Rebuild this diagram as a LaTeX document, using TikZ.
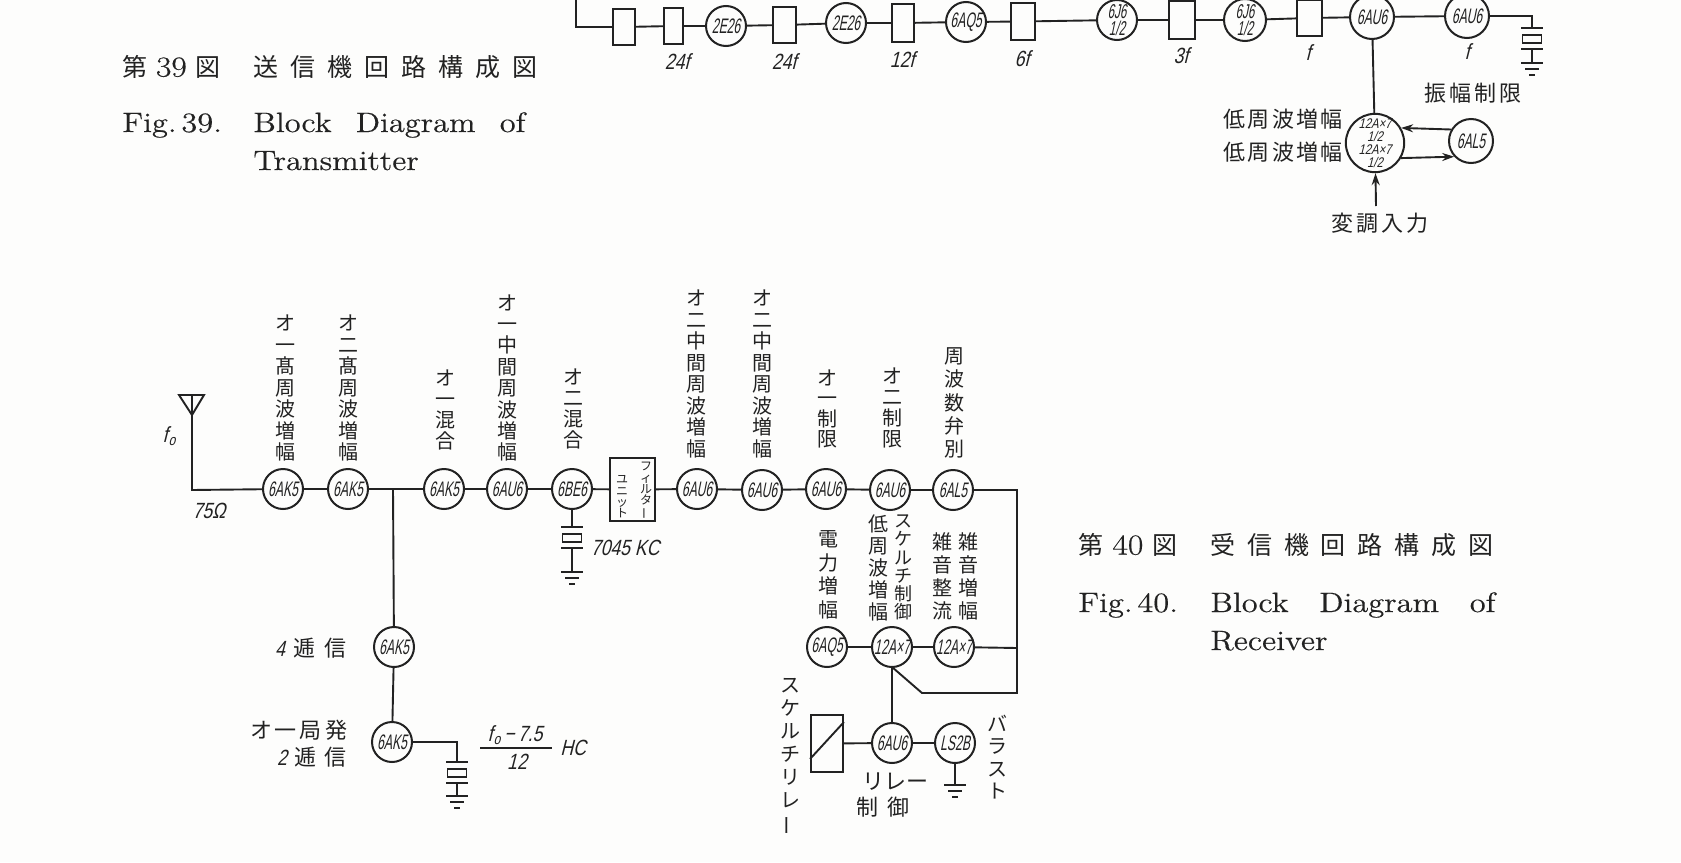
\documentclass[tikz,border=0pt]{standalone}
\usepackage{fontspec}
\usetikzlibrary{arrows.meta,calc}
\newfontfamily\cjk{Noto Sans CJK JP}
\newfontfamily\tubef[FakeSlant=0.2,FakeStretch=0.58]{Liberation Sans}
\newfontfamily\ital[FakeSlant=0.25,FakeStretch=0.8]{Liberation Sans}
\newfontfamily\capf[FakeStretch=1.16,FakeBold=0.4]{Latin Modern Roman}
\definecolor{ink}{HTML}{222222}
\definecolor{paper}{HTML}{FDFDFC}
\makeatletter
% vertical stack of characters: pitch in reference pixels, then the characters
\newcommand\vstk[2]{\vbox{\baselineskip=\dimexpr #1pt/2\relax\lineskip=0pt\lineskiplimit=-100pt
  \@tfor\@ch:=#2\do{\hbox to 1.1em{\hss\@ch\hss}}}}
% characters spread over a width in reference pixels
\newcommand\spr[2]{\hbox to \dimexpr #1pt/2\relax{\@tfor\@ch:=#2\do{\@ch\hskip 0pt plus 1fil}\unskip}}
\makeatother
\newcommand\vb{\rotatebox[origin=c]{90}{ー}}
\newcommand\nfour{{\ital 4}}
\newcommand\ntwo{{\ital 2}}
\newcommand\nxxxix{{\capf\fontsize{14.5}{14}\selectfont 39}}
\newcommand\nxl{{\capf\fontsize{14.5}{14}\selectfont 40}}
\newcommand\fsub{f\kern0.6pt\raisebox{-1.5pt}{\fontsize{7.5}{7.5}\selectfont o}}
\newcommand\xtal[3]{%
  \draw[wire] ({#1-11},{#2}) -- ({#1+11},{#2});
  \draw[wire] ({#1-9.5},{#2+7}) rectangle ({#1+9.5},{#2+15});
  \draw[wire] ({#1-11},{#2+21}) -- ({#1+11},{#2+21});
  \draw[wire] ({#1},{#2+21}) -- ({#1},{#2+#3});
  \gndsym{#1}{#2+#3}}
\newcommand\gndsym[2]{%
  \draw[wire] ({#1-11},{#2}) -- ({#1+11},{#2});
  \draw[wire] ({#1-7},{#2+6}) -- ({#1+7},{#2+6});
  \draw[wire] ({#1-3},{#2+12}) -- ({#1+3},{#2+12});}
\tikzset{
  wire/.style={draw=ink,line width=0.95pt},
  tube/.style={circle,draw=ink,line width=1pt,minimum size=20pt,inner sep=0pt,fill=paper,text=ink,
    font=\tubef\fontsize{10.5}{10}\selectfont},
  bigtube/.style={tube,minimum size=26pt,font=\ital\fontsize{7}{6.4}\selectfont,align=center},
  twotube/.style={tube,font=\tubef\fontsize{10}{8.5}\selectfont,align=center},
  blk/.style={rectangle,draw=ink,line width=0.95pt,inner sep=0pt,fill=paper},
  vlab/.style={inner sep=0pt,text=ink,font=\cjk\fontsize{10}{10}\selectfont},
  vsmall/.style={inner sep=0pt,text=ink,font=\cjk\fontsize{9}{9}\selectfont},
  vtiny/.style={inner sep=0pt,text=ink,font=\cjk\fontsize{6}{6}\selectfont},
  hlab/.style={inner sep=0pt,text=ink,font=\cjk\fontsize{11}{11}\selectfont},
  val/.style={inner sep=0pt,text=ink,font=\ital\fontsize{11}{11}\selectfont},
  capj/.style={inner sep=0pt,anchor=west,text=ink,font=\cjk\fontsize{12.5}{12.5}\selectfont},
  cape/.style={inner sep=0pt,anchor=base west,text=ink,font=\capf\fontsize{14}{14}\selectfont},
  tip/.style={-{Stealth[length=6pt,width=4pt]}},
}
\begin{document}
\begin{tikzpicture}[x=0.5pt,y=-0.5pt]
\useasboundingbox (0,0) rectangle (1681,862);
\fill[paper] (0,0) rectangle (1681,862);

% ---- captions
\node[capj] (cap39a) at (122,67) {\spr{98}{第\nxxxix 図}};
\node[capj] (cap39b) at (253,67) {\spr{284}{送信機回路構成図}};
\node[cape] (cap39c) at (122,132) {Fig.\,39.};
\node[cape] (cap39d) at (253,132) {\hbox to 136pt{Block\hfill Diagram\hfill of}};
\node[cape] (cap39e) at (253,170) {Transmitter};
\node[capj] (cap40a) at (1078,545) {\spr{99}{第\nxl 図}};
\node[capj] (cap40b) at (1210,545) {\spr{283}{受信機回路構成図}};
\node[cape] (cap40c) at (1078,612) {Fig.\,40.};
\node[cape] (cap40d) at (1210,612) {\hbox to 142.5pt{Block\hfill Diagram\hfill of}};
\node[cape] (cap40e) at (1210,650) {Receiver};

% ---- transmitter chain
\coordinate (tstart) at (576,0);
\node[blk,minimum width=11pt,minimum height=18pt] (tb1) at (624,27) {};
\node[blk,minimum width=9.5pt,minimum height=18pt] (tb2) at (673.5,26) {};
\node[tube] (tt1) at (726,26) {2E26};
\node[blk,minimum width=11.5pt,minimum height=18pt] (tb3) at (784.5,25) {};
\node[tube] (tt2) at (846,23) {2E26};
\node[blk,minimum width=11pt,minimum height=19pt] (tb4) at (903,23) {};
\node[tube] (tt3) at (966,22) {6AQ5};
\node[blk,minimum width=12pt,minimum height=18.5pt] (tb5) at (1023,21.5) {};
\node[twotube] (tt4) at (1117,20) {6J6\\1/2};
\node[blk,minimum width=13pt,minimum height=19pt] (tb6) at (1182,20) {};
\node[twotube,minimum size=21pt] (tt5) at (1245,20) {6J6\\1/2};
\node[blk,minimum width=12.5pt,minimum height=18pt] (tb7) at (1309.5,18) {};
\node[tube,minimum size=22pt,font=\tubef\fontsize{10.5}{9}\selectfont] (tt6) at (1372,17) {6AU6};
\node[tube,minimum size=22pt,font=\tubef\fontsize{10.5}{9}\selectfont] (tt7) at (1467,16) {6AU6};
\coordinate (txt) at (1532,28);
\node[bigtube] (amp) at (1375,143) {12A×7\\1/2\\12A×7\\1/2};
\node[tube,minimum size=22pt] (lim) at (1471,141) {6AL5};
\coordinate (modin) at (1376,206);

\draw[wire] (tstart) |- (tb1);
\draw[wire] (tb1) -- (tb2);
\draw[wire] (tb2) -- (tt1);
\draw[wire] (tt1) -- (tb3);
\draw[wire] (tb3) -- (tt2);
\draw[wire] (tt2) -- (tb4);
\draw[wire] (tb4) -- (tt3);
\draw[wire] (tt3) -- (tb5);
\draw[wire] (tb5) -- (tt4);
\draw[wire] (tt4) -- (tb6);
\draw[wire] (tb6) -- (tt5);
\draw[wire] (tt5) -- (tb7);
\draw[wire] (tb7) -- (tt6);
\draw[wire] (tt6) -- (tt7);
\draw[wire] (tt7) -| (txt);
\draw[wire] (tt6) -- (amp);
\draw[wire,tip] (lim.150) -- (amp.30);
\draw[wire,tip] (amp.-30) -- (lim.223);
\draw[wire,tip] (modin) -- (amp);
\xtal{1532}{28}{35}

\node[val] (f24a) at (677,62) {24f};
\node[val] (f24b) at (784,62) {24f};
\node[val] (f12) at (902,60) {12f};
\node[val] (f6) at (1022,59) {6f};
\node[val] (f3) at (1181,56) {3f};
\node[val] (f1a) at (1308,53) {f};
\node[val] (f1b) at (1467,52) {f};
\node[hlab] (tl1) at (1473,93) {\spr{97}{振幅制限}};
\node[hlab] (tl2) at (1283,119) {\spr{119}{低周波増幅}};
\node[hlab] (tl3) at (1283,152) {\spr{119}{低周波増幅}};
\node[hlab] (tl4) at (1380,223) {\spr{97}{変調入力}};

% ---- receiver: main line
\coordinate (antbase) at (192,490);
\coordinate (anttip) at (192,415);
\coordinate (antl) at (179,395);
\coordinate (antr) at (204,395);
\node[tube] (r1) at (283,489) {6AK5};
\node[tube] (r2) at (348,489) {6AK5};
\coordinate (tap) at (393,489);
\node[tube] (r3) at (444,489) {6AK5};
\node[tube] (r4) at (507,489) {6AU6};
\node[tube] (r5) at (572,489) {6BE6};
\node[blk,minimum width=22.5pt,minimum height=31.5pt] (filt) at (632.5,489.5) {};
\node[tube] (r6) at (697,489) {6AU6};
\node[tube] (r7) at (762,490) {6AU6};
\node[tube] (r8) at (826,489) {6AU6};
\node[tube] (r9) at (890,490) {6AU6};
\node[tube] (r10) at (953,490) {6AL5};
\coordinate (rcorner) at (1017,490);
\coordinate (rlow) at (1017,693);
\coordinate (rbend) at (922,693);
\coordinate (rtee) at (1017,648);
\node[tube] (a1) at (827,647) {6AQ5};
\node[tube] (a2) at (892,647) {12A×7};
\node[tube] (a3) at (954,647) {12A×7};
\coordinate (a2foot) at (892,667);
\node[tube] (rel) at (892,743) {6AU6};
\node[tube] (bal) at (955,743) {LS2B};
\node[blk,minimum width=16pt,minimum height=28.5pt] (relay) at (827,743.5) {};
\coordinate (balg) at (955,785);
\node[tube] (o1) at (394,647) {6AK5};
\node[tube] (o2) at (392,742) {6AK5};
\coordinate (oxt) at (457,762);
\coordinate (r5x) at (572,527);

\draw[wire] (antl) -- (antr) -- (anttip) -- cycle;
\draw[wire] (antl) ++(13,0) -- (anttip);
\draw[wire] (anttip) -- (antbase) -- (r1);
\draw[wire] (r1) -- (r2);
\draw[wire] (r2) -- (tap) -- (r3);
\draw[wire] (r3) -- (r4);
\draw[wire] (r4) -- (r5);
\draw[wire] (r5) -- (filt);
\draw[wire] (filt) -- (r6);
\draw[wire] (r6) -- (r7);
\draw[wire] (r7) -- (r8);
\draw[wire] (r8) -- (r9);
\draw[wire] (r9) -- (r10);
\draw[wire] (r10) -- (rcorner) -- (rlow) -- (rbend) -- (a2foot);
\draw[wire] (a3) -- (rtee);
\draw[wire] (a3) -- (a2);
\draw[wire] (a2) -- (a1);
\draw[wire] (a2) -- (rel);
\draw[wire] (rel) -- (bal);
\draw[wire] (rel) -- (relay);
\draw[wire] (relay.south west) ++(0,-14) -- ($(relay.north east)+(0,8)$);
\draw[wire] (bal) -- (balg);
\gndsym{955}{785}
\draw[wire] (tap) -- (o1);
\draw[wire] (o1) -- (o2);
\draw[wire] (o2) -| (oxt);
\xtal{457}{762}{34}
\draw[wire] (r5) -- (r5x);
\xtal{572}{527}{45}

% ---- receiver: labels above
\node[vlab] (v1) at (285,388) {\vstk{21.5}{オ一髙周波増幅}};
\node[vlab] (v2) at (348,388) {\vstk{21.5}{オ二髙周波増幅}};
\node[vlab] (v3) at (445,410) {\vstk{21}{オ一混合}};
\node[vlab] (v4) at (507,378) {\vstk{21.4}{オ一中間周波増幅}};
\node[vlab] (v5) at (573,409) {\vstk{21}{オ二混合}};
\node[vlab] (v6) at (696,374) {\vstk{21.5}{オ二中間周波増幅}};
\node[vlab] (v7) at (762,374) {\vstk{21.5}{オ二中間周波増幅}};
\node[vlab] (v8) at (827,409) {\vstk{20.5}{オ一制限}};
\node[vlab] (v9) at (892,408) {\vstk{21}{オ二制限}};
\node[vlab] (v10) at (954,403) {\vstk{23.4}{周波数弁別}};
% filter unit
\node[vtiny] (fl1) at (646,491) {\vstk{11.3}{フィルタ\vb}};
\node[vtiny] (fl2) at (622,497) {\vstk{11.3}{ユニット}};
% labels below
\node[vlab] (b1) at (828,575) {\vstk{23.5}{電力増幅}};
\node[vlab] (b2) at (878,567.5) {\vstk{22}{低周波増幅}};
\node[vsmall] (b3) at (903,567.5) {\vstk{18.2}{スケルチ制御}};
\node[vlab] (b4) at (942,576) {\vstk{23}{雑音整流}};
\node[vlab] (b5) at (968,576) {\vstk{23}{雑音増幅}};
\node[vlab] (b6) at (790,757) {\vstk{23}{スケルチリレ\vb}};
\node[vlab] (b7) at (997,757) {\vstk{22.5}{バラスト}};
\node[hlab] (b8) at (890,782) {\spr{56}{リレー}};
\node[hlab] (b9) at (883,807) {\spr{53}{制御}};
% values
\node[val] (fo) at (169,436) {\fsub};
\node[val] (ohm) at (209,511) {75Ω};
\node[val] (kc) at (625,548) {7045 KC};
\node[hlab] (o1l) at (311,648) {\spr{72}{\nfour 逓信}};
\node[hlab] (o2l) at (298.5,730) {\spr{97}{オ一局発}};
\node[hlab] (o3l) at (312,757) {\spr{70}{\ntwo 逓信}};
\coordinate (fracl) at (480,748);
\coordinate (fracr) at (552,748);
\draw[wire] (fracl) -- (fracr);
\node[val] (fn) at (515,735) {\fsub\,−\,7.5};
\node[val] (fd) at (517,762) {12};
\node[val] (hc) at (573,748) {HC};
\end{tikzpicture}
\end{document}
